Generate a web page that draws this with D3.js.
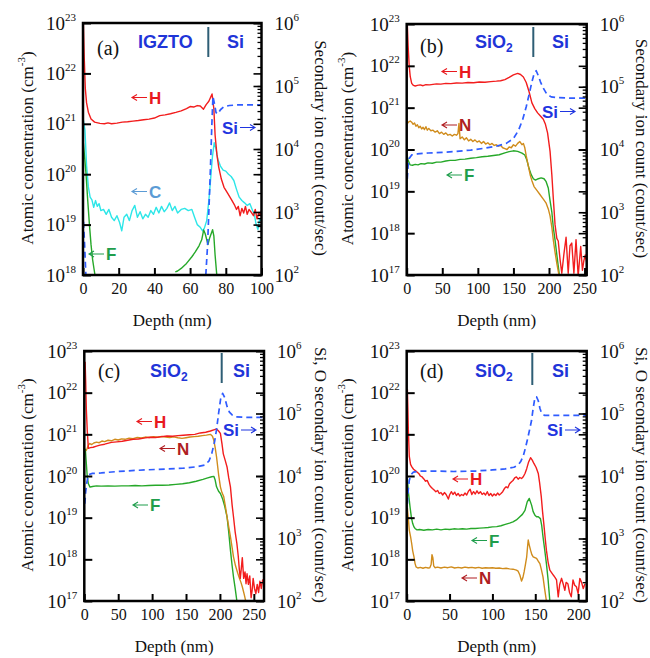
<!DOCTYPE html>
<html>
<head>
<meta charset="utf-8">
<script src="https://cdn.jsdelivr.net/npm/d3@7"></script>
<style>
  body { margin: 0; background: #fff; }
  svg { display: block; }
</style>
</head>
<body>
<div id="chart"></div>
<script>
// ---- tick values ----
var aXTicks = [0, 20, 40, 60, 80, 100];
var bXTicks = [0, 50, 100, 150, 200, 250];
var cXTicks = [0, 50, 100, 150, 200, 250];
var dXTicks = [0, 50, 100, 150, 200];
var aDecades = [1e18, 1e19, 1e20, 1e21, 1e22, 1e23];
var bcdDecades = [1e17, 1e18, 1e19, 1e20, 1e21, 1e22, 1e23];
var countDecades = [1e2, 1e3, 1e4, 1e5, 1e6];

// ---- (a) IGZTO on Si : [depth nm, value] ----
var aH = [[0.2,1e23],[0.7,2e22],[1.3,5e21],[2,2.6e21],[3,1.7e21],[4.5,1.25e21],[6.5,1.08e21],[9.5,1.02e21],[12,1.0e21],[14,1.04e21],[16,1.0e21],[19,1.03e21],[22,1.08e21],[25,1.1e21],[28,1.13e21],[31,1.16e21],[34,1.2e21],[37,1.24e21],[40,1.3e21],[43,1.45e21],[46,1.5e21],[49,1.58e21],[52,1.68e21],[55,1.8e21],[58,2.0e21],[60,2.2e21],[62,2.15e21],[64,2.3e21],[65.7,2.25e21],[67.5,1.95e21],[69,2.4e21],[70.5,2.8e21],[72.3,3.9e21],[73.3,2.0e21],[74,6e20],[75,2.5e20],[76,1.4e20],[77.5,8e19],[79,5.5e19],[81,4.2e19],[83,3.2e19],[85,2.4e19],[86,2.0e19],[87,2.3e19],[88,1.5e19],[89,2.1e19],[90,1.7e19],[91,2.3e19],[92,1.6e19],[93,2.0e19],[94,1.8e19],[95.5,1.5e19],[96.5,2.0e19],[97.5,1.3e19],[98.5,1.7e19],[99.3,1.5e19],[100,1.9e19]];
var aC = [[0.2,1.2e21],[1.1,7.5e20],[2,1.5e20],[3,5.6e19],[4,3.5e19],[5,3.1e19],[6,2.2e19],[7,3.0e19],[8,2.3e19],[9,2.6e19],[10,1.9e19],[11.5,2.0e19],[13,1.6e19],[14.5,2.0e19],[16,1.4e19],[17.5,1.2e19],[19,1.5e19],[20.5,1.1e19],[21.7,7.5e18],[23,1.4e19],[24.5,1.6e19],[26,1.2e19],[27.5,1.9e19],[29,2.4e19],[30.5,1.4e19],[32,1.8e19],[33.5,1.3e19],[35,1.6e19],[36.5,1.4e19],[38,1.9e19],[39.5,1.6e19],[41,2.2e19],[42.5,1.7e19],[44,2.3e19],[45.5,1.8e19],[47,2.1e19],[48.5,2.7e19],[50,1.9e19],[51.5,2.3e19],[53,1.7e19],[55,2.0e19],[57,2.1e19],[59,1.9e19],[61,2.0e19],[62.5,1.4e19],[64,1.0e19],[65.5,9e18],[67,7.5e18],[68,8.5e18],[69.3,1.2e19],[70.5,3.0e19],[71.5,8e19],[72.5,2.2e20],[73.5,4.2e20],[74.5,3.2e20],[75.5,2.0e20],[77,1.45e20],[78.5,1.2e20],[80,1.15e20],[81.5,1.0e20],[83,9e19],[84.5,7.5e19],[86,5e19],[87.5,3.5e19],[89,3.0e19],[90.5,2.7e19],[92,2.4e19],[93.5,2.6e19],[95,1.9e19],[96,1.6e19],[97,1.0e19],[98,8e18],[99,1.3e19],[100,1.2e19]];
var aF = [[0.2,4.2e20],[1,2e20],[1.7,1e20],[2.6,3.2e19],[3.6,1e19],[4.5,4e18],[5.4,2e18],[6.2,1.3e18],[6.8,0.95e18], null,
          [51.7,1.15e18],[53,1.2e18],[55,1.35e18],[58,1.7e18],[61,2.3e18],[63,2.9e18],[65,3.8e18],[66.5,5e18],[67.6,7.8e18],[68.5,6.5e18],[70,4e18],[71,5.5e18],[72.6,7.9e18],[73.3,6e18],[74,2.5e18],[75,0.95e18]];
var aSi = [[0.3,7e2],[0.9,3e2],[1.6,1e2], null,
           [68.8,1e2],[69.8,3e2],[70.6,1.2e3],[71.4,5e3],[72.2,2.5e4],[72.8,6.8e4],[73.5,5.5e4],[74.5,3.8e4],[75.5,3.6e4],[77,4.2e4],[79,4.7e4],[82,4.9e4],[86,5e4],[100,5e4]];

// ---- (b) SiO2 on Si ----
var bH = [[0.9,9.5e22],[2,3e22],[3.5,1e22],[5,5.5e21],[7,3.8e21],[9.5,3.4e21],[12,3.3e21],[15,3.4e21],[19,3.5e21],[23,3.35e21],[27,3.55e21],[32,3.5e21],[37,3.6e21],[42,3.7e21],[48,3.65e21],[55,3.8e21],[62,3.75e21],[70,3.9e21],[78,3.85e21],[86,4.0e21],[94,3.95e21],[102,4.1e21],[110,4.05e21],[118,4.2e21],[126,4.3e21],[132,4.4e21],[138,4.7e21],[144,5.3e21],[150,6.1e21],[156,6.6e21],[160,6.2e21],[164,5.4e21],[168,4e21],[172,2.4e21],[176,1.3e21],[180,9.5e20],[184,7.5e20],[188,6.3e20],[192,5.3e20],[195,4e20],[198,2.5e20],[201.5,9e19],[204,2.5e19],[206,7e18],[208.5,1.6e18],[211,7.5e17],[213,6.5e17],[215.6,2.3e17],[218,1.1e17],[221,3.2e17],[224,8e17],[227,1.1e17],[229.5,5e17],[232,5.8e17],[235,1.1e17],[238,7e17],[241,0.95e17],[244.6,4.8e17],[247,1.3e17],[249,2.2e17],[251,3e17],[253,2e17]];
var bN = [[0.9,4.2e20],[3,4.6e20],[5,4.8e20],[7,4.5e20],[9,4.0e20],[11,4.3e20],[13,3.6e20],[15,3.9e20],[17,3.3e20],[19,3.6e20],[21,3.1e20],[23,3.4e20],[25,3.0e20],[27,3.5e20],[29,2.9e20],[31,3.2e20],[34,2.8e20],[37,2.9e20],[40,2.6e20],[43,2.8e20],[46,2.4e20],[49,2.6e20],[52,2.3e20],[55,2.5e20],[58,2.2e20],[61,2.3e20],[64,2.1e20],[67,2.3e20],[70,2.2e20],[72,2.4e20],[73.5,4.2e20],[75,1.8e20],[78,2.0e20],[81,1.7e20],[84,1.9e20],[87,1.6e20],[90,1.75e20],[93,1.55e20],[96,1.7e20],[99,1.5e20],[102,1.6e20],[105,1.4e20],[108,1.55e20],[111,1.35e20],[114,1.45e20],[117,1.3e20],[120,1.4e20],[123,1.25e20],[126,1.3e20],[129,1.2e20],[132,1.25e20],[135,1.1e20],[138,1.05e20],[141,1.0e20],[144,1.15e20],[147,1.1e20],[150,1.3e20],[153,1.2e20],[156,1.4e20],[159,1.55e20],[162,1.3e20],[164,1.4e20],[166,1.1e20],[168,7e19],[171,4e19],[173.5,2.5e19],[176,1.8e19],[179,1.3e19],[183,1.05e19],[187,8.5e18],[192,6.5e18],[196,5.2e18],[199,3.8e18],[201.5,2.6e18],[204,1.4e18],[206,7e17],[208.5,3.5e17],[211,1.9e17],[214,1e17]];
var bF = [[0,8.1e19],[2,5.5e19],[4.7,4.3e19],[8,4.2e19],[12,4.4e19],[16,4.3e19],[20,4.6e19],[25,4.5e19],[30,4.8e19],[36,4.7e19],[42,5.0e19],[48,5.0e19],[55,5.3e19],[61,5.5e19],[68,5.5e19],[75,5.8e19],[82,5.9e19],[90,6.2e19],[98,6.4e19],[106,6.7e19],[114,6.9e19],[122,7.2e19],[130,7.5e19],[138,8.3e19],[144,8.9e19],[150,9.3e19],[156,9.0e19],[162,8.2e19],[166,7.4e19],[169,5.5e19],[172,3.5e19],[175,2.5e19],[178,2.0e19],[181,1.85e19],[185,2.0e19],[189,2.1e19],[193,2.0e19],[196,1.7e19],[199,1.2e19],[201.5,6e18],[204,3.2e18],[206,1.4e18],[208.5,6.9e17],[211.5,2.6e17],[214.6,1e17]];
var bSi = [[0.8,3.4e3],[2,5.5e3],[3.5,7.2e3],[7,8.2e3],[15,8.5e3],[30,8.8e3],[50,9.0e3],[70,9.3e3],[90,9.8e3],[110,1.05e4],[125,1.12e4],[140,1.25e4],[150,1.5e4],[157,2.0e4],[163,3.0e4],[168,4.8e4],[172,7.5e4],[176,1.2e5],[179,1.6e5],[182,1.8e5],[185,1.5e5],[188,1.2e5],[192,9.5e4],[197,7.6e4],[203,6.9e4],[212,6.7e4],[230,6.6e4],[253,6.6e4]];

// ---- (c) SiO2 on Si ----
var cH = [[1.2,5.5e22],[2,2e22],[3,4e21],[4.4,1.2e21],[6,4.6e20],[9,4.8e20],[13,4.9e20],[18,5.2e20],[23,5.5e20],[30,5.8e20],[40,6.4e20],[48,6.6e20],[56,6.8e20],[64,7.2e20],[72,7.6e20],[80,7.7e20],[90,8.2e20],[97,8.5e20],[105,8.4e20],[114,8.8e20],[122,9.1e20],[130,9.0e20],[138,9.3e20],[146,9.5e20],[155,9.8e20],[163,1.0e21],[171,1.08e21],[179,1.12e21],[186,1.2e21],[192,1.3e21],[195,1.35e21],[198,1.2e21],[200.7,1.05e21],[203,6e20],[205,3.4e20],[208,2.3e20],[210.5,1.65e20],[213,9e19],[215.5,5.5e19],[218,2e19],[220,1.05e19],[222.5,4.5e18],[225,2.4e18],[227,1.2e18],[228.5,6e17],[230,3.5e17],[231.5,6e17],[233,1.1e18],[235,3.5e17],[237,5e17],[238.5,2.6e17],[240,4.5e17],[242,2.5e17],[244,4e17],[246,1.2e17],[247.5,1.8e17],[249,3.5e17],[251,2e17],[253,1.5e17],[255,2.5e17],[257,1.6e17],[259,3e17],[261,2e17],[263,3.2e17],[265,3e17]];
var cN = [[2.5,4.0e20],[4,4.5e20],[6,5.5e20],[8,6.0e20],[11,5.7e20],[14,6.2e20],[18,6.5e20],[22,6.3e20],[26,6.9e20],[30,6.7e20],[35,7.2e20],[40,7.0e20],[45,7.6e20],[50,7.3e20],[55,7.8e20],[60,7.6e20],[66,8.1e20],[72,7.9e20],[78,8.4e20],[84,8.2e20],[90,8.6e20],[96,8.4e20],[102,8.8e20],[108,8.5e20],[114,8.9e20],[120,8.6e20],[126,8.4e20],[132,8.7e20],[138,8.3e20],[144,8.0e20],[150,8.3e20],[156,8.6e20],[162,8.8e20],[168,9.0e20],[174,9.3e20],[180,9.6e20],[186,1.0e21],[189,9e20],[191,7.2e20],[193,4.8e20],[195,2.9e20],[198,1.1e20],[200.7,5.5e19],[203,4e19],[205.6,3.2e19],[208,1.9e19],[210.5,1.05e19],[213,6e18],[215.5,3.5e18],[218,1.9e18],[220,1.15e18],[223,7e17],[226,4.8e17],[228,3.8e17],[231,2.8e17],[233,2.2e17],[236,1.4e17],[238,1e17]];
var cF = [[1.5,4.5e20],[3,2e20],[4.4,9.5e19],[6,6.5e19],[8.4,5.4e19],[12,5.6e19],[18,5.8e19],[25,5.7e19],[35,5.8e19],[45,5.7e19],[55,5.8e19],[65,5.8e19],[75,5.9e19],[85,5.8e19],[95,5.9e19],[105,6.0e19],[115,6.0e19],[125,6.1e19],[135,6.3e19],[145,6.5e19],[155,6.9e19],[165,7.5e19],[175,8.3e19],[182,9.0e19],[188,9.6e19],[191,9.8e19],[193,8e19],[195,5.5e19],[198,4.3e19],[200.7,3.8e19],[204,2.8e19],[207,1.9e19],[210.5,1.05e19],[213,4.5e18],[215.5,1.66e18],[218,7e17],[220,3.8e17],[222.5,2e17],[225,1e17]];
var cSi = [[0.8,3.6e3],[2,5.5e3],[3.5,7.6e3],[6,1.05e4],[12,1.1e4],[25,1.12e4],[45,1.17e4],[70,1.22e4],[95,1.26e4],[120,1.29e4],[145,1.33e4],[165,1.4e4],[178,1.5e4],[184,1.75e4],[188,2.3e4],[192,3.5e4],[195,5.5e4],[198,1.0e5],[201,1.7e5],[204,2.1e5],[207,1.8e5],[210.5,1.3e5],[214,1.05e5],[218,9.5e4],[224,8.8e4],[235,8.7e4],[265,8.7e4]];

// ---- (d) SiO2 on Si ----
var dH = [[0.8,1.2e22],[1.4,4e21],[1.9,1.3e21],[3,3e20],[4.5,1.9e20],[6,1.65e20],[8,1.45e20],[10,1.35e20],[12,1.25e20],[14,1.15e20],[16,1.0e20],[18,9.5e19],[20,8.5e19],[22,7.5e19],[24,7.8e19],[26,6.3e19],[28,5.5e19],[30,5.0e19],[32,4.6e19],[34,4.2e19],[36,4.5e19],[38,3.8e19],[40,4.0e19],[42,3.5e19],[44,4.0e19],[46,3.6e19],[48.6,2.8e19],[50,3.5e19],[52,4.2e19],[54,3.6e19],[56,4.1e19],[58,3.4e19],[60,3.8e19],[62,3.3e19],[64,3.6e19],[66,3.4e19],[68,3.9e19],[70,3.5e19],[72,4.3e19],[74,4.8e19],[76,3.6e19],[78,4.2e19],[80,3.7e19],[82,4.4e19],[84,3.8e19],[86,4.2e19],[88,3.6e19],[90,3.9e19],[92,3.5e19],[94,4.2e19],[96,3.4e19],[98,3.8e19],[100,3.3e19],[102,3.7e19],[104,3.4e19],[106,3.9e19],[108,3.5e19],[110,3.8e19],[112,4.2e19],[114,5e19],[116,5.5e19],[118,5.2e19],[120,6.5e19],[122,7.2e19],[124,7.8e19],[126,9e19],[128,9.5e19],[130,8.4e19],[132,9.2e19],[134,8.7e19],[136,9.6e19],[138,1.15e20],[140,1.5e20],[142,2.1e20],[144.5,2.75e20],[146.5,2.4e20],[148.4,2e20],[151,1.6e20],[153.5,1.15e20],[155,7e19],[157,3.2e19],[158.5,1.4e19],[160,7e18],[161.5,3.3e18],[163,1.66e18],[165,8.5e17],[167,5.5e17],[169,4.8e17],[171,4.2e17],[173,3.7e17],[174.8,3.2e17],[176.8,1.26e17],[178.5,2.5e17],[180.7,3.5e17],[182.5,2.6e17],[184.5,1.8e17],[186,2.8e17],[188,2.6e17],[190,1.6e17],[192,1.26e17],[194,3.2e17],[196,2.4e17],[198,2.2e17],[200,1.5e17],[202,3.5e17],[204,2.8e17],[206,2e17],[208,2.6e17]];
var dF = [[0.8,8.7e19],[2,4e19],[3.9,1.8e19],[5.5,1e19],[7,7.2e18],[8.5,6e18],[9.7,5.5e18],[12,5.1e18],[15,5.2e18],[20,5.0e18],[25,5.2e18],[30,5.1e18],[35,5.3e18],[40,5.1e18],[45,5.3e18],[50,5.2e18],[55,5.4e18],[60,5.3e18],[65,5.4e18],[70,5.3e18],[75,5.5e18],[80,5.5e18],[85,5.6e18],[90,5.7e18],[95,5.8e18],[100,6.0e18],[105,6.1e18],[110,6.4e18],[115,6.9e18],[120,7.4e18],[124,7.9e18],[128,8.8e18],[132,1.05e19],[135,1.2e19],[138,1.5e19],[140.6,2.4e19],[143,2.9e19],[145.7,2.0e19],[147.5,1.4e19],[149.6,1.15e19],[151.5,1.05e19],[153.5,1.05e19],[156,9.5e18],[157.5,6.5e18],[159,3.5e18],[161,1.7e18],[163,7.9e17],[165,3.2e17],[167,1e17]];
var dN = [[0.8,1.7e19],[2,9e18],[3,5e18],[4.5,3.5e18],[5.8,2.4e18],[7,1.6e18],[8.5,1.15e18],[9.7,8e17],[10.9,6.6e17],[13,6.2e17],[16,6.4e17],[19,6.1e17],[22,6.4e17],[25,6.2e17],[27,6.3e17],[28.5,7.5e17],[29.5,1.3e18],[30.5,1.1e18],[31.5,7e17],[33,6.3e17],[36,6.5e17],[40,6.2e17],[44,6.5e17],[48,6.3e17],[52,6.6e17],[56,6.2e17],[60,6.4e17],[64,6.2e17],[68,6.5e17],[72,6.3e17],[76,6.4e17],[80,6.2e17],[84,6.4e17],[88,6.1e17],[92,6.3e17],[96,6.2e17],[100,6.3e17],[104,6.1e17],[108,6.2e17],[112,6.0e17],[116,6.1e17],[120,5.9e17],[124,5.8e17],[128,5.5e17],[130,5.2e17],[132,4.2e17],[134,3.0e17],[135.5,3.6e17],[137,5e17],[138.5,7.5e17],[140,1.15e18],[141,2e18],[141.8,2.9e18],[143,2.2e18],[144.5,1.66e18],[146,1.3e18],[147.6,1.15e18],[149.5,1.1e18],[151.5,1.05e18],[153.5,9e17],[155.4,7.9e17],[157,5.8e17],[159,3.8e17],[161,1.9e17],[163,1e17]];
var dSi = [[0.8,3.6e3],[1.8,6e3],[3,8.5e3],[5,1.05e4],[7.8,1.15e4],[15,1.2e4],[30,1.2e4],[55,1.18e4],[80,1.2e4],[100,1.25e4],[115,1.3e4],[125,1.38e4],[130,1.5e4],[133,1.7e4],[136,2.1e4],[138.5,2.8e4],[140.6,3.7e4],[143,5.2e4],[145.7,7.8e4],[147.5,1.2e5],[149.6,1.8e5],[151.5,1.85e5],[153.5,1.6e5],[155.5,1.2e5],[157,1.05e5],[159,9.6e4],[161,9.3e4],[170,9.3e4],[190,9.3e4],[210,9.3e4]];

// ---- colours and fonts ----
var col = {
    H: '#f21d1d', C: '#2de6e8', F: '#26a829', N: '#d08c1c', Si: '#2f5cff',
    tH: '#e8191e', tC: '#5b9bd5', tF: '#1f9e4c', tN: '#b01e22', tSi: '#1f35e0',
    head: '#1f35d8', bar: '#2e5e75'
};
var SERIF = '"Liberation Serif", "Times New Roman", serif';
var SANS = '"Liberation Sans", Arial, sans-serif';

function S(data, key, axis) { return { data: data, key: key, axis: axis || 'left' }; }

var panels = [
    { id: 'a', left: 83, right: 261.5, top: 23, bottom: 275, xMax: 100, xTicks: aXTicks, decades: aDecades,
      series: [S(aC, 'C'), S(aF, 'F'), S(aH, 'H'), S(aSi, 'Si', 'right')],
      rightTitle: 'Secondary ion count (coutt/sec)', rightTitleX: 315, leftTitleX: 33,
      tag: '(a)', tagPos: [97, 55],
      layer: 'IGZTO', layerX: 138, headY: 48, barX: 208.3, barY: [27, 57], siX: 227,
      notes: [{t: 'H', x: 132, y: 97.5}, {t: 'Si', x: 222, y: 127.5, right: true}, {t: 'C', x: 132, y: 191.5}, {t: 'F', x: 89, y: 254}] },
    { id: 'b', left: 406.7, right: 586.7, top: 24, bottom: 275, xMax: 253, xTicks: bXTicks, decades: bcdDecades,
      series: [S(bF, 'F'), S(bN, 'N'), S(bH, 'H'), S(bSi, 'Si', 'right')],
      rightTitle: 'Secondary ion count (count/sec)', rightTitleX: 636, leftTitleX: 353,
      tag: '(b)', tagPos: [420, 53],
      layer: 'SiO2', layerX: 475, headY: 48, barX: 533.3, barY: [27, 57], siX: 552,
      notes: [{t: 'H', x: 442, y: 71.5}, {t: 'N', x: 442, y: 125}, {t: 'F', x: 447, y: 175}, {t: 'Si', x: 542, y: 111.5, right: true}] },
    { id: 'c', left: 84.3, right: 264, top: 351, bottom: 601, xMax: 265, xTicks: cXTicks, decades: bcdDecades,
      series: [S(cF, 'F'), S(cN, 'N'), S(cH, 'H'), S(cSi, 'Si', 'right')],
      rightTitle: 'Si, O secondary ion count (count/sec)', rightTitleX: 315, leftTitleX: 33,
      tag: '(c)', tagPos: [98, 378],
      layer: 'SiO2', layerX: 150, headY: 377, barX: 221.7, barY: [353, 383], siX: 233,
      notes: [{t: 'H', x: 137, y: 421.5}, {t: 'N', x: 160, y: 448.5}, {t: 'Si', x: 223, y: 430, right: true}, {t: 'F', x: 133, y: 505}] },
    { id: 'd', left: 406.7, right: 586.7, top: 351, bottom: 601, xMax: 210, xTicks: dXTicks, decades: bcdDecades,
      series: [S(dN, 'N'), S(dF, 'F'), S(dH, 'H'), S(dSi, 'Si', 'right')],
      rightTitle: 'Si, O secondary ion count (count/sec)', rightTitleX: 636, leftTitleX: 353,
      tag: '(d)', tagPos: [420, 378],
      layer: 'SiO2', layerX: 475, headY: 377, barX: 532.3, barY: [353, 385], siX: 552,
      notes: [{t: 'Si', x: 547, y: 430, right: true}, {t: 'H', x: 453, y: 479}, {t: 'F', x: 472, y: 540.5}, {t: 'N', x: 462, y: 578}] }
];

var svg = d3.select('#chart').append('svg')
    .attr('width', 650)
    .attr('height', 658)
    .style('font-family', SERIF);
var defs = svg.append('defs');

// arrow + letter annotation
function note(g, n) {
    var c = col['t' + n.t];
    var d;
    var tx;
    if (n.right) {
        tx = n.x;
        var a0 = n.x + 18, a1 = n.x + 33;
        d = 'M' + a0 + ',' + n.y + 'H' + a1 + 'M' + (a1 - 5) + ',' + (n.y - 3) + 'L' + a1 + ',' + n.y + 'L' + (a1 - 5) + ',' + (n.y + 3);
    } else {
        tx = n.x + 17;
        d = 'M' + (n.x + 15) + ',' + n.y + 'H' + n.x + 'M' + (n.x + 5) + ',' + (n.y - 3) + 'L' + n.x + ',' + n.y + 'L' + (n.x + 5) + ',' + (n.y + 3);
    }
    g.append('path').attr('d', d).attr('fill', 'none').attr('stroke', c).attr('stroke-width', 1.1);
    g.append('text').attr('x', tx).attr('y', n.y + 6)
        .style('font-family', SANS).style('font-weight', 'bold')
        .style('fill', c).style('font-size', '17px').text(n.t);
}

function serifText(sel, size) {
    return sel.style('font-family', SERIF).style('font-size', size + 'px').style('fill', '#111');
}

panels.forEach(function(p) {
    var x = d3.scaleLinear().domain([0, p.xMax]).range([p.left, p.right]);
    var yL = d3.scaleLog().domain([p.decades[0], p.decades[p.decades.length - 1]]).range([p.bottom, p.top]);
    var yR = d3.scaleLog().domain([1e2, 1e6]).range([p.bottom, p.top]);
    var g = svg.append('g');

    defs.append('clipPath').attr('id', 'clip-' + p.id).append('rect')
        .attr('x', p.left).attr('y', p.top)
        .attr('width', p.right - p.left).attr('height', p.bottom - p.top);

    // curves
    var plot = g.append('g').attr('clip-path', 'url(#clip-' + p.id + ')');
    p.series.forEach(function(s) {
        var y = s.axis === 'right' ? yR : yL;
        var line = d3.line()
            .defined(function(d) { return d !== null; })
            .x(function(d) { return x(d[0]); })
            .y(function(d) { return y(d[1]); });
        plot.append('path').datum(s.data)
            .attr('d', line)
            .attr('fill', 'none')
            .attr('stroke', col[s.key])
            .attr('stroke-width', s.key === 'Si' ? 1.7 : 1.4)
            .attr('stroke-dasharray', s.key === 'Si' ? '6,4' : null)
            .attr('stroke-linejoin', 'round');
    });

    // bottom axis
    var gx = g.append('g').attr('transform', 'translate(0,' + p.bottom + ')')
        .call(d3.axisBottom(x).tickValues(p.xTicks).tickSize(-7).tickPadding(8).tickFormat(d3.format('d')));
    serifText(gx.selectAll('.tick text'), 16);

    // left axis
    var gl = g.append('g').attr('transform', 'translate(' + p.left + ',0)')
        .call(d3.axisLeft(yL).tickValues(p.decades).tickSize(-8).tickPadding(7).tickFormat(function() { return '10'; }));
    serifText(gl.selectAll('.tick text'), 19)
        .append('tspan').attr('dy', -9).style('font-size', '11px')
        .text(function(d) { return Math.round(Math.log10(d)); });

    // right axis: count decades with labels, minor ticks, and mirrored left decades
    var gr = g.append('g').attr('transform', 'translate(' + p.right + ',0)')
        .call(d3.axisRight(yR).tickValues(countDecades).tickSize(-8).tickPadding(13).tickFormat(function() { return '10'; }));
    serifText(gr.selectAll('.tick text'), 19)
        .append('tspan').attr('dy', -9).style('font-size', '11px')
        .text(function(d) { return Math.round(Math.log10(d)); });
    var gm = g.append('g').attr('transform', 'translate(' + p.right + ',0)')
        .call(d3.axisRight(yR).tickValues(yR.ticks()).tickSize(-4).tickFormat(''));
    var gmm = g.append('g').attr('transform', 'translate(' + p.right + ',0)')
        .call(d3.axisRight(yL).tickValues(p.decades).tickSize(-8).tickFormat(''));

    [gx, gl, gr, gm, gmm].forEach(function(a) { a.select('.domain').remove(); });
    gx.selectAll('.tick line').attr('stroke', '#000').attr('stroke-width', 2);
    gl.selectAll('.tick line').attr('stroke', '#000').attr('stroke-width', 2);
    gr.selectAll('.tick line').attr('stroke', '#000').attr('stroke-width', 1.6);
    gm.selectAll('.tick line').attr('stroke', '#000').attr('stroke-width', 1.3);
    gmm.selectAll('.tick line').attr('stroke', '#000').attr('stroke-width', 1.6);

    // frame
    g.append('rect')
        .attr('x', p.left).attr('y', p.top)
        .attr('width', p.right - p.left).attr('height', p.bottom - p.top)
        .attr('fill', 'none').attr('stroke', '#000').attr('stroke-width', 2.5);

    // axis titles
    var cy = (p.top + p.bottom) / 2 - 1;
    var lt = serifText(g.append('text'), 17)
        .attr('transform', 'translate(' + p.leftTitleX + ',' + cy + ') rotate(-90)')
        .attr('text-anchor', 'middle');
    lt.append('tspan').text('Atomic concentration (cm');
    lt.append('tspan').attr('dy', -8).style('font-size', '11px').text('-3');
    lt.append('tspan').attr('dy', 8).text(')');

    serifText(g.append('text'), 17)
        .attr('transform', 'translate(' + p.rightTitleX + ',' + cy + ') rotate(90)')
        .attr('text-anchor', 'middle')
        .text(p.rightTitle);

    serifText(g.append('text'), 17)
        .attr('x', (p.left + p.right) / 2).attr('y', p.bottom + 51)
        .attr('text-anchor', 'middle')
        .text('Depth (nm)');

    // panel tag and layer header
    serifText(g.append('text'), 20).attr('x', p.tagPos[0]).attr('y', p.tagPos[1]).text(p.tag);

    var lay = g.append('text').attr('x', p.layerX).attr('y', p.headY)
        .style('font-family', SANS).style('font-weight', 'bold')
        .style('fill', col.head).style('font-size', '18px');
    if (p.layer === 'SiO2') {
        lay.append('tspan').text('SiO');
        lay.append('tspan').attr('dy', 4).style('font-size', '12px').text('2');
    } else {
        lay.text(p.layer);
    }
    g.append('line')
        .attr('x1', p.barX).attr('x2', p.barX).attr('y1', p.barY[0]).attr('y2', p.barY[1])
        .attr('stroke', col.bar).attr('stroke-width', 2);
    g.append('text').attr('x', p.siX).attr('y', p.headY)
        .style('font-family', SANS).style('font-weight', 'bold')
        .style('fill', col.head).style('font-size', '18px').text('Si');

    p.notes.forEach(function(n) { note(g, n); });
});
</script>
</body>
</html>
